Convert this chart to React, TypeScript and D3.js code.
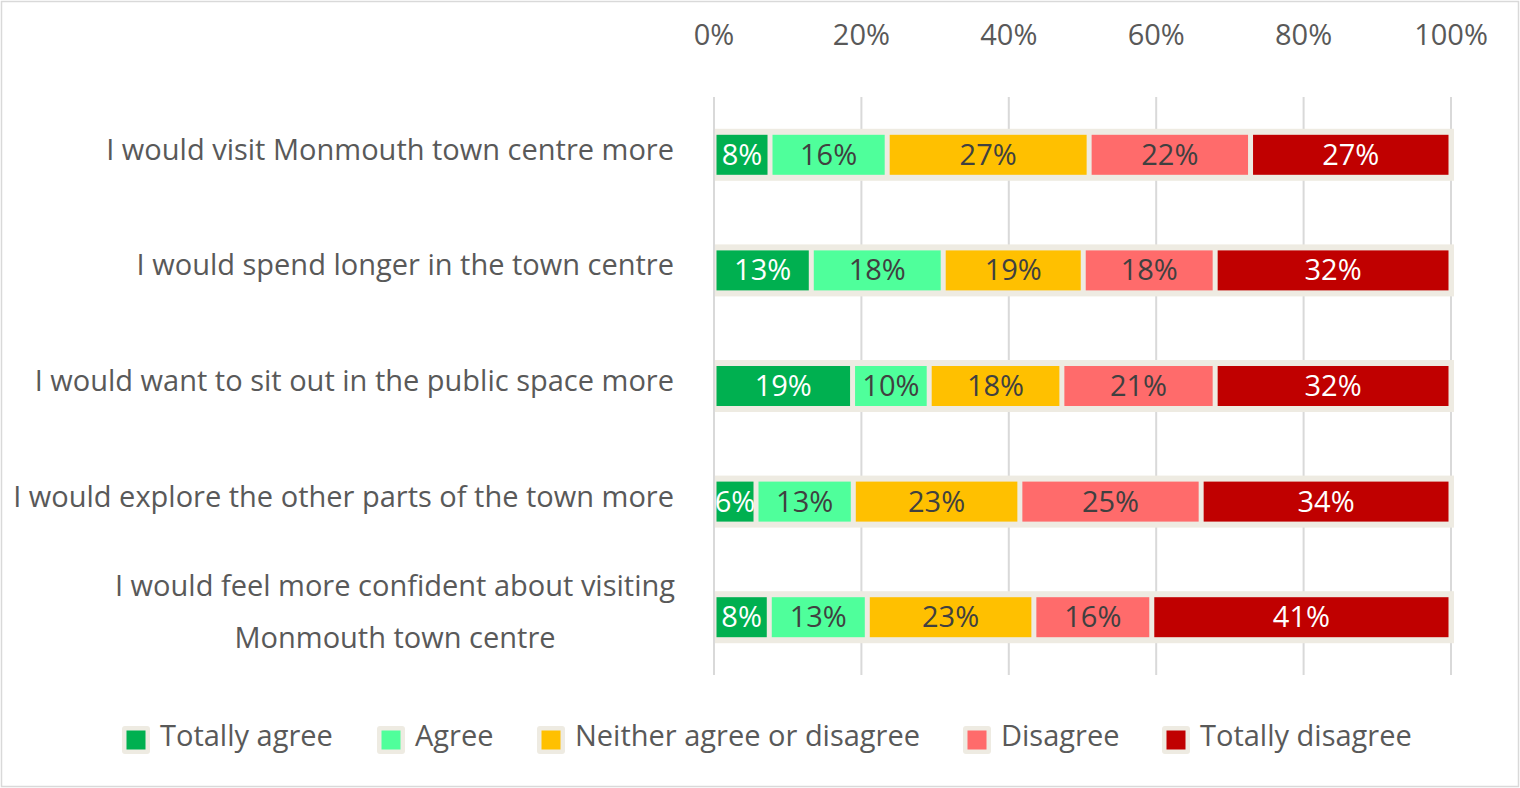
import React, { useEffect, useRef } from "react";
import * as d3 from "d3";

const categories: string[][] = [
  ["I would visit Monmouth town centre more"],
  ["I would spend longer in the town centre"],
  ["I would want to sit out in the public space more"],
  ["I would explore the other parts of the town more"],
  ["I would feel more confident about visiting", "Monmouth town centre"],
];
const seriesNames = ["Totally agree", "Agree", "Neither agree or disagree", "Disagree", "Totally disagree"];
const seriesColors = ["#00B050", "#4FFF9B", "#FFC000", "#FF6B6B", "#C00000"];
const labelColors = ["#FFFFFF", "#404040", "#404040", "#404040", "#FFFFFF"];
const totallyAgree = [7.6, 13.2, 18.8, 5.7, 7.5];
const agree = [15.9, 17.9, 10.4, 13.2, 13.3];
const neither = [27.4, 19.0, 18.0, 22.6, 22.6];
const disagree = [21.9, 17.9, 20.8, 24.6, 16.0];
const totallyDisagree = [27.2, 32.0, 32.0, 33.9, 40.6];
const tickValues = [0, 20, 40, 60, 80, 100];

const FONT = "'Open Sans', 'Noto Sans', sans-serif";
const FS = 29;

export default function App() {
  const ref = useRef<SVGSVGElement>(null);
  useEffect(() => {
    const svg = d3.select(ref.current);
    svg.selectAll("*").remove();
    const W = 1520, H = 788;
    const x = d3.scaleLinear().domain([0, 100]).range([714, 1451]);
    const y = d3.scaleBand<number>().domain(d3.range(categories.length)).range([97, 675]);
    const barH = 40;
    const series = [totallyAgree, agree, neither, disagree, totallyDisagree];

    svg.append("rect").attr("x", 0).attr("y", 0).attr("width", W).attr("height", H).attr("fill", "#fff");
    svg.append("rect").attr("x", 1.5).attr("y", 1.5).attr("width", W - 3).attr("height", H - 3)
      .attr("fill", "none").attr("stroke", "#D9D9D9").attr("stroke-width", 1.5);

    svg.append("g").selectAll("line").data(tickValues).join("line")
      .attr("x1", d => x(d)).attr("x2", d => x(d)).attr("y1", 97).attr("y2", 675)
      .attr("stroke", "#D9D9D9").attr("stroke-width", 2);
    svg.append("g").selectAll("text").data(tickValues).join("text")
      .attr("x", d => x(d)).attr("y", 45).attr("text-anchor", "middle")
      .attr("font-family", FONT).attr("font-size", FS).attr("fill", "#595959")
      .text(d => d + "%");

    const stackData = categories.map((_, i) => series.map(s => s[i]));
    stackData.forEach((vals, i) => {
      const cy = (y(i) as number) + y.bandwidth() / 2;
      const g = svg.append("g");
      g.append("rect").attr("x", x(0) + 1).attr("width", x(100) - x(0) + 2)
        .attr("y", cy - barH / 2 - 6).attr("height", barH + 12).attr("fill", "#EEEBE2");
      let acc = 0;
      vals.forEach((v, j) => {
        const x0 = x(acc), x1 = x(acc + v);
        acc += v;
        g.append("rect").attr("x", x0 + 2.5).attr("width", Math.max(0, x1 - x0 - 5))
          .attr("y", cy - barH / 2).attr("height", barH).attr("fill", seriesColors[j]);
        g.append("text").attr("x", (x0 + x1) / 2).attr("y", cy + 10).attr("text-anchor", "middle")
          .attr("font-family", FONT).attr("font-size", FS).attr("fill", labelColors[j])
          .text(Math.round(v) + "%");
      });
      const lines = categories[i];
      if (lines.length === 1) {
        svg.append("text").attr("x", 674).attr("y", cy + 5).attr("text-anchor", "end")
          .attr("font-family", FONT).attr("font-size", FS).attr("fill", "#595959").text(lines[0]);
      } else {
        lines.forEach((l, k) => {
          svg.append("text").attr("x", 395).attr("y", cy - 21 + k * 52).attr("text-anchor", "middle")
            .attr("font-family", FONT).attr("font-size", FS).attr("fill", "#595959").text(l);
        });
      }
    });

    const legendX = [122, 377, 537, 963, 1162];
    const lg = svg.append("g");
    seriesNames.forEach((name, j) => {
      const lx = legendX[j];
      lg.append("rect").attr("x", lx).attr("y", 726).attr("width", 28).attr("height", 28)
        .attr("rx", 3).attr("fill", "#EEEBE2");
      lg.append("rect").attr("x", lx + 4.5).attr("y", 730.5).attr("width", 19).attr("height", 19)
        .attr("fill", seriesColors[j]);
      lg.append("text").attr("x", lx + 38).attr("y", 746).attr("font-family", FONT)
        .attr("font-size", FS).attr("fill", "#595959").text(name);
    });
  }, []);
  return (
    <svg ref={ref} width={1520} height={788}
      style={{ position: "absolute", left: 0, top: 0, display: "block" }} />
  );
}
